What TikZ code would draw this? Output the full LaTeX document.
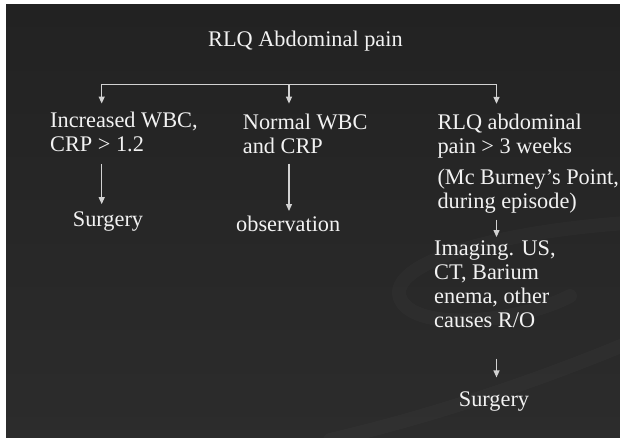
\documentclass[tikz,border=0pt]{standalone}
\usepackage{fontspec}
\setmainfont{Liberation Serif}
\usepackage{xcolor}
\usetikzlibrary{arrows.meta}
\definecolor{slidetop}{HTML}{222222}
\definecolor{slidebottom}{HTML}{2C2C2C}
\definecolor{slidetext}{HTML}{F2F2F2}
\definecolor{slideline}{HTML}{D2D2D2}

\begin{document}
\begin{tikzpicture}[x=1pt,y=-1pt,
  txt/.style={text=slidetext, font=\fontsize{22.3}{24}\selectfont, inner sep=0pt, align=left, anchor=base west},
  bar/.style={draw=slideline, line width=1.3pt},
  arr/.style={bar, -{Triangle[length=7pt,width=6pt]}},
  swirl/.style={draw=white, draw opacity=0.018, line width=14pt, line cap=round}]
\useasboundingbox (0,0) rectangle (620,438);
\fill[white] (0,0) rectangle (620,438);
\shade[top color=slidetop, bottom color=slidebottom] (6,5) rectangle (620,438);
% faint swirl of the slide background
\draw[swirl] (640,222) .. controls (480,232) and (380,268) .. (402,302) .. controls (422,332) and (520,322) .. (570,296);
\draw[swirl] (330,440) .. controls (450,412) and (560,372) .. (640,338);

\node[txt] (title) at (208,47) {RLQ Abdominal pain};

% three branches (base = last line)
\node[txt] (inc) at (50,151.7) {Increased WBC,\\CRP > 1.2};
\node[txt] (norm) at (242.7,153.3) {Normal WBC\\and CRP};
\node[txt] (rlq) at (437.3,153.3) {RLQ abdominal\\pain > 3 weeks};
\node[txt] (mcb) at (437.3,208.6) {(Mc Burney’s Point,\\during episode)};
\node[txt] (img) at (434,327.5) {Imaging. US,\\CT, Barium\\enema, other\\causes R/O};

% outcomes
\node[txt] (surg1) at (72.7,226.7) {Surgery};
\node[txt] (obs) at (236,231.7) {observation};
\node[txt] (surg2) at (458.7,406.7) {Surgery};

\coordinate (barL) at (101.7,84.3);
\coordinate (barM) at (289,84.3);
\coordinate (barR) at (496.5,84.3);
\draw[bar] (barL) -- (barR);
\draw[arr, shorten >=8.5pt] (barL) -- (barL |- inc.north);
\draw[arr, shorten >=10pt] (barM) -- (barM |- norm.north);
\draw[arr, shorten >=9.8pt] (barR) -- (barR |- rlq.north);

\draw[arr, shorten <=11.6pt, shorten >=7.6pt] (barL |- inc.south) -- (barL |- surg1.north);
\draw[arr, shorten <=10pt, shorten >=5pt] (barM |- norm.south) -- (barM |- obs.north);
\draw[arr, shorten <=6pt, shorten >=3.5pt] (barR |- mcb.south) -- (barR |- img.north);
\draw[arr, shorten <=30.7pt, shorten >=14.3pt] (barR |- img.south) -- (barR |- surg2.north);
\end{tikzpicture}
\end{document}
